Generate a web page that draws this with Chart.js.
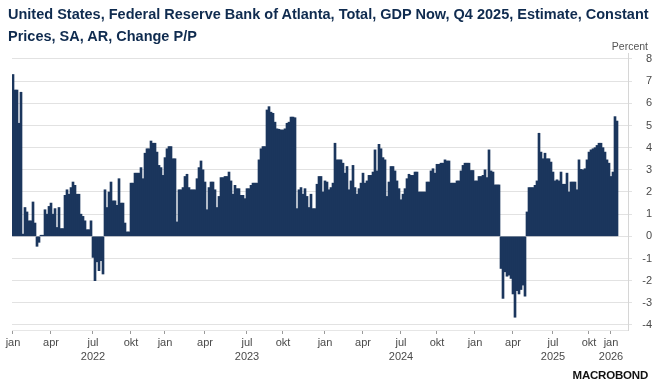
<!DOCTYPE html>
<html>
<head>
<meta charset="utf-8">
<script src="https://cdn.jsdelivr.net/npm/chart.js@4.4.1/dist/chart.umd.min.js"></script>
<style>
  html, body { margin: 0; padding: 0; background: #fff; }
  #wrap { position: relative; width: 652px; height: 385px; overflow: hidden; font-family: "Liberation Sans", Arial, sans-serif; }
  canvas { position: absolute; left: 0; top: 0; }
  #title { position: absolute; left: 8px; top: 3px; font-size: 14.5px; font-weight: bold; line-height: 22px; color: #0f2b4f; white-space: nowrap; }
  #unit { position: absolute; right: 4px; top: 39px; font-size: 10.5px; line-height: 14px; color: #555; }
  #logo { position: absolute; right: 4px; top: 368px; font-size: 11.5px; line-height: 15px; font-weight: bold; color: #111; letter-spacing: -0.2px; }
</style>
</head>
<body>
<div id="wrap">
  <canvas id="chart" width="652" height="385"></canvas>
  <div id="title">United States, Federal Reserve Bank of Atlanta, Total, GDP Now, Q4 2025, Estimate, Constant<br>Prices, SA, AR, Change P/P</div>
  <div id="unit">Percent</div>
  <div id="logo">MACROBOND</div>
</div>
<script>
// GDPNow estimates, one entry per observation, jan 2022 -> jan 2026
const gdpNow = [
  7.3, 6.6, 6.6, 5.1, 6.5, 0.1, 1.3, 1.1, 0.7, 0.7, 1.55, 0.6, -0.45, -0.27, 0.05, 0.05, 1.2, 1.0, 1.35, 1.5,
  1.0, 1.25, 0.4, 1.3, 0.35, 0.35, 1.85, 2.1, 1.9, 2.2, 2.45, 2.3, 1.9, 1.9, 1.0, 0.9, 0.7, 0.3, 0.3, 0.7,
  -0.95, -2.0, -1.15, -1.55, -1.1, -1.7, 2.1, 1.3, 2.0, 2.45, 1.6, 1.6, 1.4, 2.6, 1.5, 1.5, 0.6, 0.2, 0.2, 2.4,
  2.4, 2.85, 2.85, 2.85, 3.1, 2.6, 3.75, 3.95, 3.95, 4.3, 4.2, 4.2, 3.8, 3.2, 3.1, 2.75, 3.55, 3.95, 4.05, 4.05,
  3.5, 3.5, 0.65, 2.1, 2.1, 2.2, 2.7, 2.8, 2.2, 2.1, 2.1, 2.1, 2.6, 3.1, 3.4, 3.0, 2.45, 1.2, 2.2, 2.45,
  2.45, 2.1, 1.3, 1.8, 2.65, 2.65, 2.7, 2.7, 2.9, 2.5, 1.9, 2.3, 2.15, 2.15, 1.85, 1.85, 1.7, 2.15, 2.15, 2.3,
  2.4, 2.4, 2.4, 3.45, 3.95, 4.05, 4.05, 5.7, 5.85, 5.6, 5.55, 5.15, 4.85, 4.83, 4.8, 4.8, 4.85, 5.1, 5.15, 5.38,
  5.38, 5.35, 1.25, 2.1, 2.2, 1.9, 2.15, 1.8, 1.3, 1.9, 1.25, 1.25, 2.35, 2.7, 2.7, 2.0, 2.5, 2.45, 2.1, 2.2,
  2.4, 4.2, 3.45, 3.45, 3.45, 3.3, 2.85, 3.15, 2.1, 2.5, 3.2, 2.2, 1.9, 2.15, 2.4, 2.85, 2.4, 2.5, 2.75, 2.75,
  2.9, 3.9, 2.95, 4.15, 3.95, 3.55, 3.45, 1.8, 2.45, 3.15, 3.15, 2.95, 2.5, 2.15, 1.65, 1.9, 2.15, 2.6, 2.8, 2.75,
  2.75, 2.9, 2.9, 2.0, 2.0, 2.0, 2.0, 2.45, 2.45, 2.95, 3.05, 2.85, 3.25, 3.25, 3.3, 3.3, 3.45, 3.4, 3.4, 2.4,
  2.4, 2.4, 2.5, 2.5, 2.95, 3.2, 3.3, 3.3, 3.3, 2.97, 2.97, 2.5, 2.5, 2.7, 2.7, 2.75, 3.0, 2.65, 3.9, 2.95,
  2.9, 2.32, 2.32, 2.32, -1.45, -2.8, -1.6, -1.8, -1.75, -1.9, -2.6, -3.65, -2.45, -2.6, -2.4, -2.2, -2.7, 1.1, 2.2, 2.2,
  2.2, 2.3, 2.5, 4.65, 3.8, 3.5, 3.75, 3.5, 3.5, 3.35, 2.9, 2.5, 2.55, 2.5, 2.9, 2.35, 2.35, 2.85, 2.0, 2.45,
  2.45, 2.45, 2.1, 3.45, 3.02, 3.0, 3.05, 3.45, 3.8, 3.9, 3.95, 4.0, 4.1, 4.2, 4.2, 4.0, 3.8, 3.45, 3.3, 2.7,
  2.9, 5.4, 5.2
];

// first observation of each labelled quarter
const tickIndex = [0, 19, 40, 59, 76, 96, 117, 135, 156, 175, 194, 212, 231, 250, 270, 288, 299];
const tickMonths = ["jan", "apr", "jul", "okt", "jan", "apr", "jul", "okt", "jan", "apr", "jul", "okt", "jan", "apr", "jul", "okt", "jan"];
const yearIndex = [40, 117, 194, 270, 299];
const yearLabels = ["2022", "2023", "2024", "2025", "2026"];

// empty slots after the last estimate (axis runs on a little past the data)
const trailingSlots = 5;

const FONT = "'Liberation Sans', Arial, sans-serif";
const INK = "#4a4a4a";
const BAR = "#1b365d";

const categories = Array.from({ length: gdpNow.length + trailingSlots }, (_, i) => {
	const k = tickIndex.indexOf(i);
	if (k < 0) return "";
	const y = yearIndex.indexOf(i);
	return y < 0 ? tickMonths[k] : [tickMonths[k], yearLabels[y]];
});

new Chart(document.getElementById("chart"), {
	type: "bar",
	data: {
		labels: categories,
		datasets: [
			{
				data: gdpNow,
				backgroundColor: BAR,
				borderWidth: 0,
				barPercentage: 1,
				categoryPercentage: 1,
			},
		],
	},
	options: {
		responsive: false,
		animation: false,
		layout: { padding: { top: 53, left: 12, right: 0, bottom: 10 } },
		plugins: { legend: { display: false }, tooltip: { enabled: false } },
		scales: {
			x: {
				type: "category",
				offset: true,
				grid: {
					display: true,
					drawOnChartArea: false,
					drawTicks: true,
					tickLength: 4,
					offset: true,
					color: (ctx) => (categories[ctx.index] ? "#9a9a9a" : "rgba(0,0,0,0)"),
				},
				border: { display: true, color: "#e6e6e6" },
				ticks: {
					autoSkip: false,
					maxRotation: 0,
					minRotation: 0,
					padding: 2,
					color: INK,
					font: { family: FONT, size: 11, lineHeight: 1.3 },
				},
				afterFit: (s) => {
					s.height = 45;
				},
			},
			y: {
				position: "right",
				min: -4.2256,
				max: 8.27,
				grid: { color: "#e2e2e2", lineWidth: 1, tickLength: 4 },
				border: { display: true, color: "#d6d6d6" },
				ticks: {
					stepSize: 1,
					includeBounds: false,
					crossAlign: "far",
					padding: 6,
					color: INK,
					font: { family: FONT, size: 11 },
				},
				afterFit: (s) => {
					s.width = 24;
				},
			},
		},
	},
});
</script>
</body>
</html>
